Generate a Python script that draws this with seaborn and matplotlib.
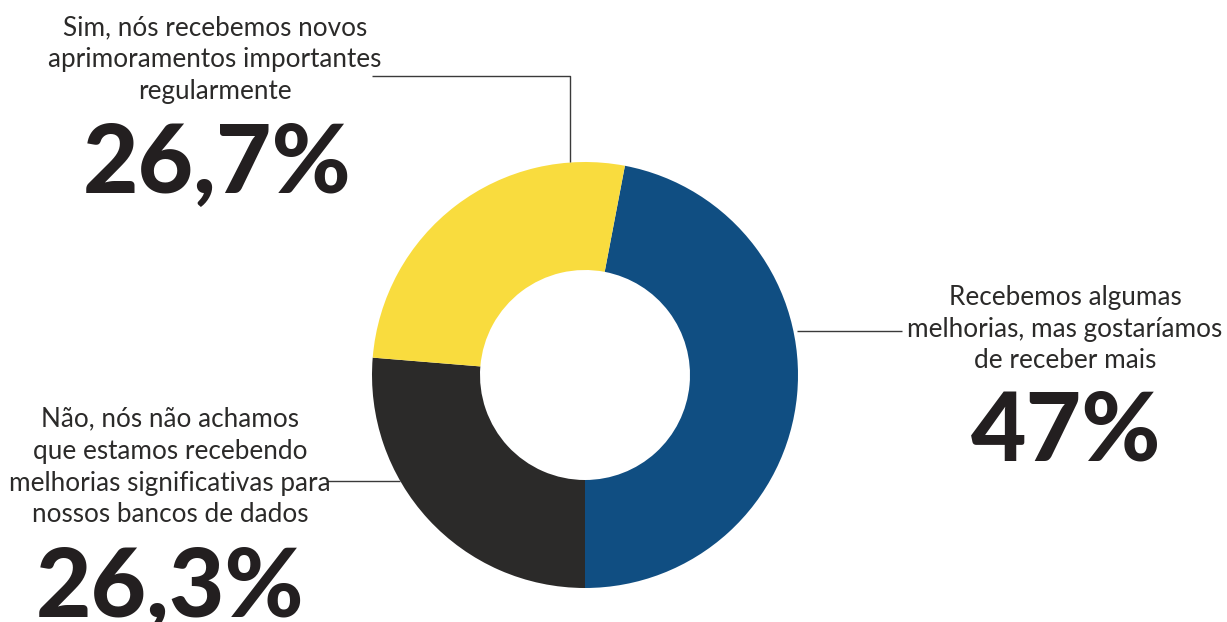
import matplotlib
matplotlib.use("Agg")
import matplotlib.pyplot as plt
import seaborn as sns

# Survey answers (share of respondents, %)
labels = [
    "Recebemos algumas\nmelhorias, mas gostaríamos\nde receber mais",
    "Não, nós não achamos\nque estamos recebendo\nmelhorias significativas para\nnossos bancos de dados",
    "Sim, nós recebemos novos\naprimoramentos importantes\nregularmente",
]
values = [47.0, 26.3, 26.7]
value_text = ["47%", "26,3%", "26,7%"]
colors = ["#104E82", "#2B2A29", "#F9DC3E"]

sns.set_theme(style="white")
plt.rcParams["font.family"] = ["Lato", "DejaVu Sans"]

W, H = 1227, 622
fig = plt.figure(figsize=(W / 100, H / 100), dpi=100)
ax = fig.add_axes([0, 0, 1, 1])
ax.set_xlim(0, W)
ax.set_ylim(0, H)
ax.set_aspect("equal")
ax.axis("off")

cx, cy = 585, H - 375
R, ring = 213, 108

ax.pie(values, colors=colors, center=(cx, cy), radius=R, startangle=79.2,
       counterclock=False, wedgeprops=dict(width=ring, linewidth=0))
ax.set_xlim(0, W)
ax.set_ylim(0, H)

def Y(y):
    return H - y

line_kw = dict(color="#3a3a3a", lw=1.0, solid_capstyle="butt")
# leader lines
ax.plot([570, 570, 372], [Y(162), Y(76), Y(76)], **line_kw)
ax.plot([797, 902], [Y(331), Y(331)], **line_kw)
ax.plot([326, 400], [Y(481), Y(481)], **line_kw)

label_kw = dict(ha="center", va="center", fontsize=18.8, color="#2b2a29",
                linespacing=1.35)
big_kw = dict(ha="center", va="center", fontsize=69, fontweight="black",
              color="#231f20")

# yellow slice annotation
ax.text(215, Y(60), labels[2], **label_kw)
ax.text(217, Y(165), value_text[2], **big_kw)
# blue slice annotation
ax.text(1065, Y(329), labels[0], **label_kw)
ax.text(1066, Y(433), value_text[0], **big_kw)
# black slice annotation
ax.text(170, Y(467), labels[1], **label_kw)
ax.text(170, Y(589), value_text[1], **big_kw)

fig.savefig("out.png", dpi=100, facecolor="white")
